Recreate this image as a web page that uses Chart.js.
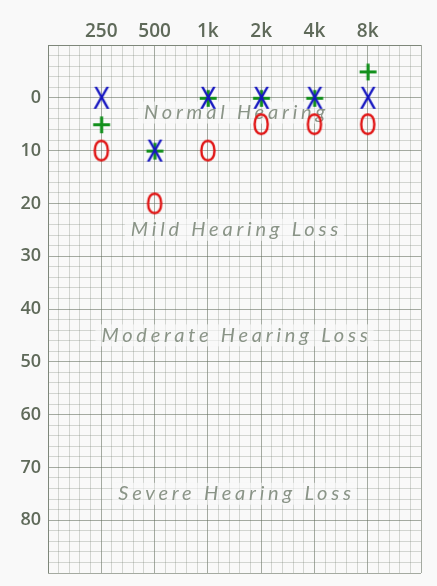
<!DOCTYPE html>
<html><head><meta charset="utf-8">
<script src="https://cdn.jsdelivr.net/npm/chart.js@4"></script>
<style>html,body{margin:0;padding:0;background:#f9f9f9;}#wrap{width:437px;height:586px;}</style>
</head><body><div id="wrap"><canvas id="c" width="437" height="586"></canvas></div>
<script>
const frequencies = ['250', '500', '1k', '2k', '4k', '8k'];
const xMarkValues = [0, 10, 0, 0, 0, 0];      // blue X
const oMarkValues = [10, 20, 10, 5, 5, 5];     // red O
const plusMarkValues = [5, 10, 0, 0, 0, -5];   // green +
const yTickLabels = [0, 10, 20, 30, 40, 50, 60, 70, 80];
const regionNames = ['Normal Hearing', 'Mild Hearing Loss', 'Moderate Hearing Loss', 'Severe Hearing Loss'];
const regionLevels = [2.8, 25, 45, 75];

const TICK_COLOR = '#5f6a5a';
const MINOR = 'rgba(120,128,115,0.30)';
const MAJOR = 'rgba(95,105,90,0.55)';

function glyph(ch, font, color, sx) {
  const c = document.createElement('canvas');
  c.width = 44; c.height = 44;
  const g = c.getContext('2d');
  g.font = font;
  const m = g.measureText(ch);
  const w = m.actualBoundingBoxRight + m.actualBoundingBoxLeft;
  const asc = m.actualBoundingBoxAscent, desc = m.actualBoundingBoxDescent;
  g.fillStyle = color;
  g.translate(22, 22);
  g.scale(sx || 1, 1);
  g.fillText(ch, -w / 2 + m.actualBoundingBoxLeft, (asc - desc) / 2);
  return c;
}
const glyphX = glyph('X', '400 30px "DejaVu Sans"', '#1414c0', 0.85);
const glyphO = glyph('O', '400 31px "DejaVu Sans"', '#e01212', 0.74);
const glyphP = glyph('+', '700 27px "DejaVu Sans"', '#12901c', 1);

function pts(arr) { return arr.map((v, i) => ({ x: i, y: v })); }

const regionPlugin = {
  id: 'regions',
  beforeDatasetsDraw(chart) {
    const ctx = chart.ctx, ys = chart.scales.y, a = chart.chartArea;
    const cx = (a.left + a.right) / 2;
    ctx.save();
    ctx.font = 'italic 400 20px Lato';
    ctx.letterSpacing = '3.8px';
    ctx.textAlign = 'center';
    ctx.textBaseline = 'middle';
    regionNames.forEach((t, i) => {
      const y = ys.getPixelForValue(regionLevels[i]);
      const w = ctx.measureText(t).width;
      ctx.fillStyle = 'rgba(249,249,249,0.6)';
      ctx.fillRect(cx - w / 2 - 4, y - 11, w + 8, 22);
      ctx.fillStyle = '#8a9487';
      ctx.fillText(t, cx + 2, y);
    });
    ctx.restore();
  }
};

new Chart(document.getElementById('c'), {
  type: 'scatter',
  data: {
    datasets: [
      { label: 'X', data: pts(xMarkValues), pointStyle: glyphX, pointRadius: 11, pointHoverRadius: 11 },
      { label: 'O', data: pts(oMarkValues), pointStyle: glyphO, pointRadius: 11, pointHoverRadius: 11 },
      { label: '+', data: pts(plusMarkValues), pointStyle: glyphP, pointRadius: 11, pointHoverRadius: 11 }
    ]
  },
  options: {
    responsive: false,
    animation: false,
    layout: { padding: { left: 0, top: 0, right: 16, bottom: 13 } },
    plugins: { legend: { display: false }, tooltip: { enabled: false } },
    scales: {
      x: {
        type: 'linear', position: 'top', min: -1, max: 6,
        afterFit(s) { s.height = 45; s.paddingLeft = 0; s.paddingRight = 0; },
        ticks: {
          stepSize: 0.2, autoSkip: false, maxRotation: 0, padding: 2,
          color: TICK_COLOR, font: { family: '"Open Sans"', size: 19, weight: '600' },
          callback(v) {
            const r = Math.round(v);
            return (Math.abs(v - r) < 1e-6 && r >= 0 && r < frequencies.length) ? frequencies[r] : '';
          }
        },
        grid: {
          drawTicks: false,
          color(c) { const v = c.tick.value; return Math.abs(v - Math.round(v)) < 1e-6 ? MAJOR : MINOR; }
        },
        border: { color: MAJOR }
      },
      y: {
        type: 'linear', reverse: true, min: -10, max: 90,
        afterFit(s) { s.width = 48; s.paddingTop = 0; s.paddingBottom = 0; },
        ticks: {
          stepSize: 2, autoSkip: false, padding: 7,
          color: TICK_COLOR, font: { family: '"Open Sans"', size: 18, weight: '600' },
          callback(v) { return yTickLabels.includes(v) ? String(v) : ''; }
        },
        grid: {
          drawTicks: false,
          color(c) { return c.tick.value % 10 === 0 ? MAJOR : MINOR; }
        },
        border: { color: MAJOR }
      }
    }
  },
  plugins: [regionPlugin]
});
</script></body></html>
